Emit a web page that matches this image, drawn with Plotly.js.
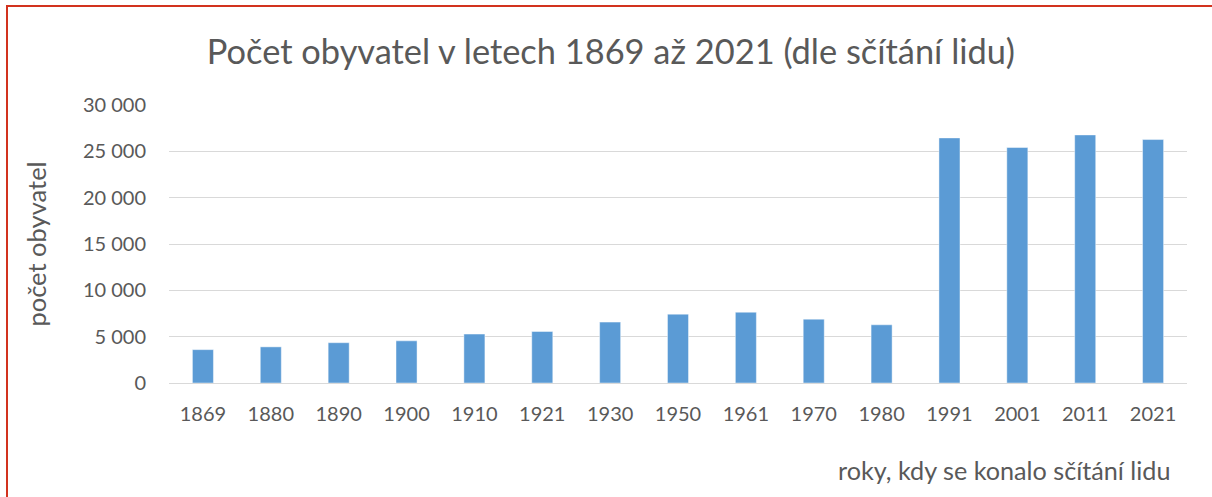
<!DOCTYPE html>
<html>
<head>
<meta charset="utf-8">
<script src="https://cdn.plot.ly/plotly-3.0.1.min.js"></script>
<style>
  html, body { margin: 0; padding: 0; background: #fff; overflow: hidden; }
  #chart { width: 1212px; height: 497px; }
  #frame { position: absolute; left: 6px; top: 5px; width: 1300px; height: 600px;
           border-left: 2px solid #D2321E; border-top: 2px solid #D2321E; pointer-events: none; }
</style>
</head>
<body>
<div id="chart"></div>
<div id="frame"></div>
<script>
const years = ['1869','1880','1890','1900','1910','1921','1930','1950','1961','1970','1980','1991','2001','2011','2021'];
const population = [3600, 3900, 4350, 4550, 5280, 5560, 6570, 7430, 7640, 6890, 6280, 26450, 25410, 26770, 26270];
const titleText = 'Počet obyvatel v letech 1869 až 2021 (dle sčítání lidu)';
const yTitle = 'počet obyvatel';
const xTitle = 'roky, kdy se konalo sčítání lidu';

const font = 'Lato, "Open Sans", sans-serif';
const grey = '#595959';

const data = [{
  type: 'bar',
  x: years,
  y: population,
  marker: { color: '#5B9BD5', line: { color: 'rgba(255,255,255,0.45)', width: 1 } },
  hoverinfo: 'x+y'
}];

const layout = {
  width: 1212, height: 497,
  margin: { l: 169, r: 25, t: 105, b: 114 },
  paper_bgcolor: '#fff', plot_bgcolor: '#fff',
  separators: ', ',
  bargap: 0.69,
  showlegend: false,
  font: { family: font, color: grey, size: 20 },
  title: { text: titleText, font: { family: font, size: 34.4, color: grey },
           x: 0.504, xanchor: 'center', y: 0.895, yanchor: 'middle' },
  xaxis: {
    type: 'category',
    showgrid: false, zeroline: false, showline: false,
    ticks: '', tickfont: { size: 20, color: grey },
    ticklabelstandoff: 17
  },
  yaxis: {
    range: [0, 30000], dtick: 5000, tick0: 0,
    tickformat: ',d',
    showgrid: true, gridcolor: '#D9D9D9', gridwidth: 1.3,
    zeroline: true, zerolinecolor: '#D9D9D9', zerolinewidth: 1.3,
    showline: false, ticks: '',
    tickfont: { size: 20, color: grey },
    ticklabelstandoff: 22,
    title: { text: yTitle, font: { size: 25.5, color: grey }, standoff: 28 }
  },
  annotations: [{
    text: xTitle, xref: 'paper', yref: 'paper',
    x: 0.820, y: -0.313, xanchor: 'center', yanchor: 'middle',
    showarrow: false, font: { size: 25.2, color: grey }
  }]
};

Plotly.newPlot('chart', data, layout, { displayModeBar: false, staticPlot: false });
</script>
</body>
</html>
